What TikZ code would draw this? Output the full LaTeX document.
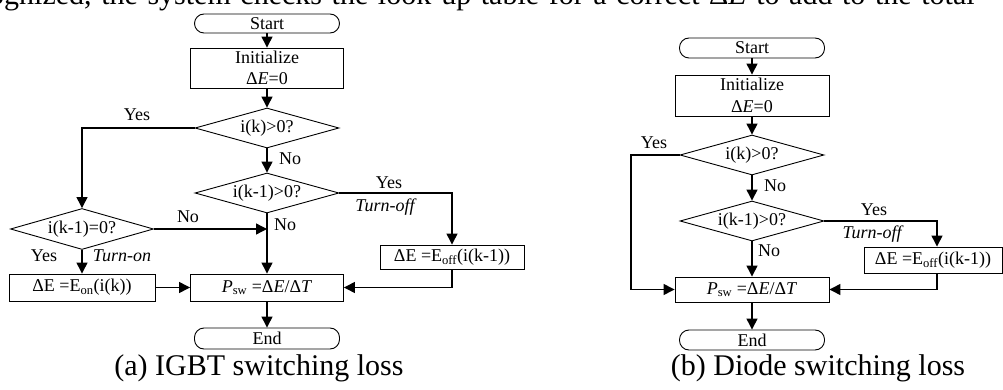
\documentclass[tikz,border=0pt]{standalone}
\usepackage{fontspec}
\setmainfont{Liberation Serif}
\usetikzlibrary{arrows.meta,shapes.geometric,calc}
\begin{document}
\begin{tikzpicture}[x=1pt,y=-1pt,
  every node/.style={font=\fontsize{18}{21.6}\selectfont},
  shape line/.style={draw,line width=0.9pt,inner sep=0pt},
  term/.style={shape line,rectangle,rounded corners=9.5pt},
  proc/.style={shape line,rectangle,align=center},
  dec/.style={shape line,diamond,aspect=3.6,minimum width=144,minimum height=40},
  flow/.style={line width=1.3pt,-{Triangle[length=11pt,width=11pt]}},
  lbl/.style={inner sep=0pt},
  itlbl/.style={inner sep=0pt,font=\fontsize{18}{21.6}\selectfont\itshape},
  bigtext/.style={inner sep=0pt,font=\fontsize{30}{36}\selectfont}]

\useasboundingbox (0,0) rectangle (1003,390);
\clip (0,0) rectangle (1003,390);

% justified running text of the page above the figure (wider word spaces)
\node[bigtext,anchor=base west] (run) at (-11,5)
  {\spaceskip=9.6pt\relax ognized, the system checks the look-up table for a correct Δ\textit{E} to add to the total};

% ---------------- (a) IGBT ----------------
\node[term,minimum width=145,minimum height=19] (sA) at (267,23.5) {Start};
\node[proc,minimum width=153,minimum height=40] (iA) at (267,68) {Initialize\\Δ\textit{E}=0};
\node[dec] (d1A) at (267,128) {i(k)>0?};
\node[dec] (d2A) at (267,193) {i(k-1)>0?};
\node[dec,minimum width=143,minimum height=41] (d3A) at (82,229) {i(k-1)=0?};
\node[proc,minimum width=146,minimum height=27] (onA) at (82,287.5) {ΔE =E\textsubscript{on}(i(k))};
\node[proc,minimum width=153,minimum height=27] (pA) at (267,287.5) {\textit{P}\textsubscript{sw} =Δ\textit{E}/Δ\textit{T}};
\node[proc,minimum width=144,minimum height=24] (offA) at (452,257) {ΔE =E\textsubscript{off}(i(k-1))};
\node[term,minimum width=145,minimum height=21] (eA) at (267,338.5) {End};

\draw[flow] (sA) -- (iA);
\draw[flow] (iA) -- (d1A);
\draw[flow] (d1A.west) -| (d3A.north);
\draw[flow] (d1A) -- (d2A);
\draw[flow] (d2A.east) -| (offA.north);
\draw[flow] (d2A) -- (pA);
\draw[flow] (d3A.east) -- (d3A.east -| d2A.south);
\draw[flow] (d3A) -- (onA);
\draw[flow] (onA) -- (pA);
\draw[flow] (offA.south) |- (pA.east);
\draw[flow] (pA) -- (eA);

\node[lbl] (yA1) at (137,115) {Yes};
\node[lbl] (nA1) at (290,159) {No};
\node[lbl] (yA2) at (389,183) {Yes};
\node[itlbl] (tA2) at (385,207) {Turn-off};
\node[lbl] (nA2) at (285,225) {No};
\node[lbl] (nA3) at (188,217) {No};
\node[lbl] (yA3) at (44,256) {Yes};
\node[itlbl] (tA3) at (122,256) {Turn-on};

\node[bigtext,anchor=base] (capA) at (259,375) {(a) IGBT switching loss};

% ---------------- (b) Diode ----------------
\node[term,minimum width=145,minimum height=20] (sB) at (752,48) {Start};
\node[proc,minimum width=154,minimum height=41] (iB) at (752,95.5) {Initialize\\Δ\textit{E}=0};
\node[dec] (d1B) at (752,155) {i(k)>0?};
\node[dec] (d2B) at (752,221) {i(k-1)>0?};
\node[proc,minimum width=138,minimum height=26] (offB) at (933,260) {ΔE =E\textsubscript{off}(i(k-1))};
\node[proc,minimum width=154,minimum height=25] (pB) at (752,289.5) {\textit{P}\textsubscript{sw} =Δ\textit{E}/Δ\textit{T}};
\node[term,minimum width=145,minimum height=20] (eB) at (752,340) {End};
\coordinate (lB) at (631,155);
\coordinate (rB) at (937,221);

\draw[flow] (sB) -- (iB);
\draw[flow] (iB) -- (d1B);
\draw[flow] (d1B.west) -- (lB) |- (pB.west);
\draw[flow] (d1B) -- (d2B);
\draw[flow] (d2B.east) -- (rB) -- (rB |- offB.north);
\draw[flow] (rB |- offB.south) |- (pB.east);
\draw[flow] (d2B) -- (pB);
\draw[flow] (pB) -- (eB);

\node[lbl] (yB1) at (654,143) {Yes};
\node[lbl] (nB1) at (775,186) {No};
\node[lbl] (yB2) at (874,210) {Yes};
\node[itlbl] (tB2) at (872,234) {Turn-off};
\node[lbl] (nB2) at (769,251) {No};

\node[bigtext,anchor=base] (capB) at (818,375) {(b) Diode switching loss};
\end{tikzpicture}
\end{document}
